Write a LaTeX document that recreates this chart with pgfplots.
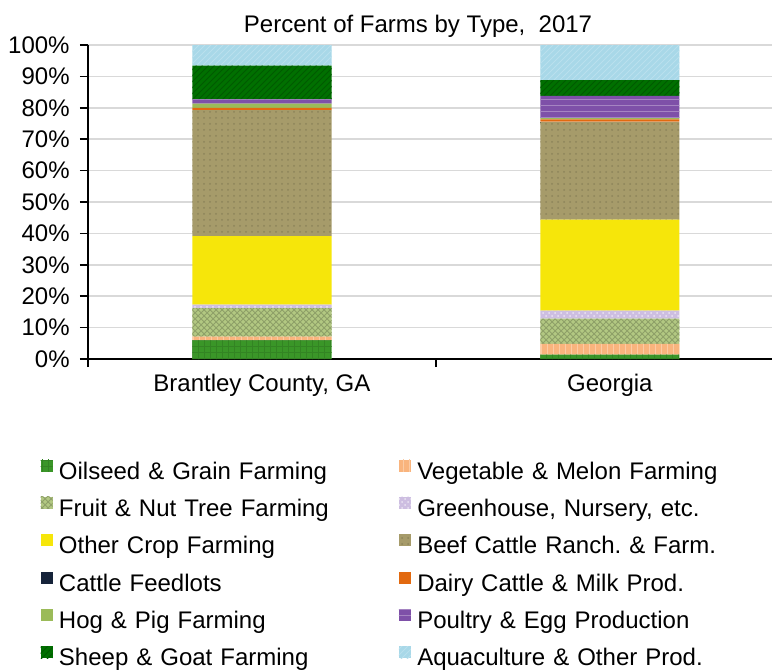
\documentclass[border=0pt]{standalone}
\usepackage{fontspec}
\setmainfont{Liberation Sans}
\usepackage{pgfplots}
\pgfplotsset{compat=1.18}
\usetikzlibrary{patterns}
\definecolor{cOil}{RGB}{58,150,40}
\definecolor{cVeg}{RGB}{249,180,125}
\definecolor{cFruit}{RGB}{178,200,130}
\definecolor{cGreen}{RGB}{205,190,225}
\definecolor{cOther}{RGB}{246,230,10}
\definecolor{cBeef}{RGB}{166,155,106}
\definecolor{cFeed}{RGB}{22,35,58}
\definecolor{cDairy}{RGB}{226,105,15}
\definecolor{cHog}{RGB}{155,187,89}
\definecolor{cPoultry}{RGB}{126,80,168}
\definecolor{cSheep}{RGB}{0,112,0}
\definecolor{cAqua}{RGB}{168,216,232}
\definecolor{cGrid}{RGB}{217,217,217}
\frenchspacing
\begin{document}
\begin{tikzpicture}[font=\fontsize{12}{14.4}\selectfont]
\path[use as bounding box] (0pt,0pt) rectangle (386pt,-335pt);
\node[anchor=base,inner sep=0pt] at (209pt,-16pt) {Percent of Farms by Type,~~2017};
\begin{axis}[
  at={(44pt,-179.5pt)}, anchor=south west,
  scale only axis, width=342pt, height=157pt,
  ybar stacked, bar width=0.4,
  xmin=-0.5, xmax=1.466, ymin=0, ymax=100,
  axis x line*=bottom, axis y line*=left,
  axis line style={line width=0.75pt, black},
  xtick={0,1}, xticklabels={Brantley County{,} GA, Georgia},
  xtick style={draw=none},
  extra x ticks={-0.5,0.5,1.5}, extra x tick labels={},
  extra x tick style={xtick style={draw=black, line width=0.75pt}},
  ytick={0,10,...,100},
  yticklabels={0\%,10\%,20\%,30\%,40\%,50\%,60\%,70\%,80\%,90\%,100\%},
  ytick style={line width=0.75pt, black},
  tick align=outside, major tick length=4pt,
  ymajorgrids, grid style={cGrid, line width=0.75pt},
  yticklabel style={inner sep=0pt, xshift=-5pt},
  xticklabel style={inner sep=0pt, anchor=base, yshift=-12pt},
  legend columns=2,
  legend style={draw=none, fill=none, inner sep=0pt, outer sep=0pt,
    at={(rel axis cs:-0.0692,-0.3206)}, anchor=north west,
    row sep=6.3pt,
    nodes={inner sep=0pt, text height=8pt, text depth=2.5pt, text width=170pt, align=left},
    /tikz/every odd column/.style={column sep=3.15pt}},
  legend image code/.code={\fill[#1] (0pt,1.1pt) rectangle (6pt,7.1pt);},
  every axis plot/.append style={draw=none},
]
\addplot[fill=cOil, postaction={pattern=grid, pattern color=cOil!88!black}] coordinates {(0,5.9) (1,1.4)};
\addplot[fill=cVeg, postaction={pattern=vertical lines, pattern color=cVeg!70!white}] coordinates {(0,1.2) (1,3.4)};
\addplot[fill=cFruit, postaction={pattern=crosshatch, pattern color=cFruit!80!black}] coordinates {(0,9.1) (1,8.1)};
\addplot[fill=cGreen, postaction={pattern=crosshatch dots, pattern color=white!60!cGreen}] coordinates {(0,1.1) (1,2.5)};
\addplot[fill=cOther] coordinates {(0,21.8) (1,29.0)};
\addplot[fill=cBeef, postaction={pattern=dots, pattern color=cBeef!85!black}] coordinates {(0,40.2) (1,31.1)};
\addplot[fill=cFeed] coordinates {(0,0) (1,0.1)};
\addplot[fill=cDairy] coordinates {(0,0.7) (1,0.7)};
\addplot[fill=cHog] coordinates {(0,1.3) (1,0.4)};
\addplot[fill=cPoultry, postaction={pattern=horizontal lines, pattern color=cPoultry!70!white}] coordinates {(0,1.4) (1,7.1)};
\addplot[fill=cSheep, postaction={pattern=north east lines, pattern color=cSheep!80!black}] coordinates {(0,10.7) (1,5.0)};
\addplot[fill=cAqua, postaction={pattern=north east lines, pattern color=cAqua!80!white}] coordinates {(0,6.6) (1,11.2)};
\legend{Oilseed \& Grain Farming, Vegetable \& Melon Farming,
  Fruit \& Nut Tree Farming, {Greenhouse, Nursery, etc.},
  Other Crop Farming, Beef Cattle Ranch. \& Farm.,
  Cattle Feedlots, Dairy Cattle \& Milk Prod.,
  Hog \& Pig Farming, Poultry \& Egg Production,
  Sheep \& Goat Farming, Aquaculture \& Other Prod.}
\end{axis}
\end{tikzpicture}
\end{document}
